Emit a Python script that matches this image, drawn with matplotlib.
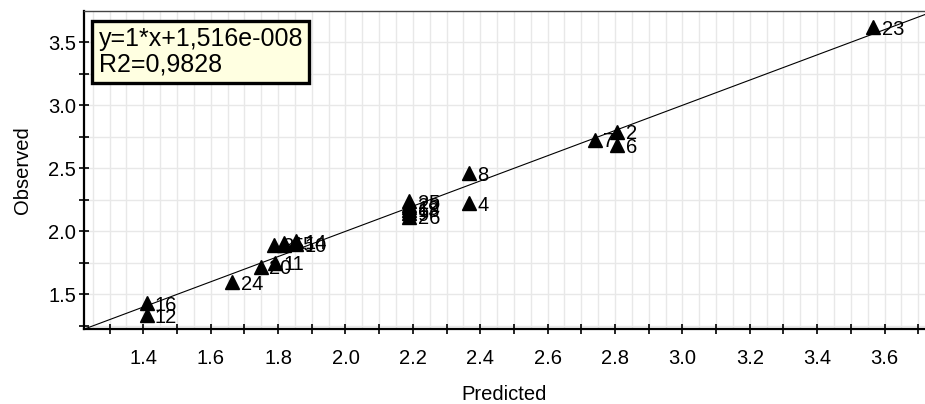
import numpy as np
import matplotlib
matplotlib.use("Agg")
from matplotlib import pyplot as plt
from matplotlib.ticker import MultipleLocator

plt.rcParams['font.family'] = ['Liberation Sans', 'DejaVu Sans']

labels = ['23', '2', '6', '7', '8', '4',
          '25', '22', '19', '13', '9', '26',
          '3', '15', '5', '14', '10',
          '11', '20', '24', '16', '12']
predicted = [3.567, 2.807, 2.807, 2.740, 2.366, 2.366,
             2.190, 2.190, 2.190, 2.190, 2.190, 2.190,
             1.787, 1.817, 1.817, 1.854, 1.854,
             1.792, 1.748, 1.664, 1.410, 1.410]
observed = [3.621, 2.790, 2.685, 2.725, 2.460, 2.222,
            2.240, 2.210, 2.190, 2.170, 2.145, 2.115,
            1.892, 1.905, 1.892, 1.923, 1.898,
            1.752, 1.719, 1.595, 1.429, 1.336]

eq_text = 'y=1*x+1,516e-008\nR2=0,9828'

fig = plt.figure(figsize=(9.25, 4.04), dpi=100)
ax = fig.add_axes([0.0908, 0.1864, 0.9092, 0.7864])

xmin, xmax = 1.224, 3.72
ymin, ymax = 1.228, 3.748
ax.set_xlim(xmin, xmax)
ax.set_ylim(ymin, ymax)

# fit line y = x
ax.plot([xmin, xmax], [xmin, xmax], color='black', lw=0.8, zorder=2)

ax.plot(predicted, observed, ls='none', marker='^', ms=10, color='black', zorder=3)
for lab, px, py in zip(labels, predicted, observed):
    ax.annotate(lab, (px, py), xytext=(6.0, 0), textcoords='offset points',
                ha='left', va='center_baseline', fontsize=14.5, zorder=4)

# ticks and grid
ax.xaxis.set_major_locator(MultipleLocator(0.2))
ax.xaxis.set_minor_locator(MultipleLocator(0.1))
ax.yaxis.set_major_locator(MultipleLocator(0.5))
ax.yaxis.set_minor_locator(MultipleLocator(0.25))
ax.xaxis.set_major_formatter(lambda v, p: '%.1f' % v)
ax.yaxis.set_major_formatter(lambda v, p: '%.1f' % v)
ax.tick_params(which='both', direction='inout', length=7, width=1.2, color='black')
ax.tick_params(axis='x', which='major', pad=11, labelsize=14.5)
ax.tick_params(axis='y', which='major', pad=2, labelsize=14.5)

for v in np.arange(1.25, 3.75, 0.05):
    ax.axvline(v, color='#e8e8e8', lw=1, zorder=0)
for v in np.arange(1.25, 3.75, 0.25):
    ax.axhline(v, color='#e8e8e8', lw=1, zorder=0)

ax.spines['left'].set_linewidth(1.6)
ax.spines['bottom'].set_linewidth(1.6)
ax.spines['top'].set_linewidth(1.0)
ax.spines['top'].set_color('#444444')
ax.spines['right'].set_visible(False)

ax.set_xlabel('Predicted', fontsize=14.5)
ax.set_ylabel('Observed', fontsize=14.5)
ax.xaxis.set_label_coords(0.5, -0.178)
ax.yaxis.set_label_coords(-0.062, 0.5)

ax.text(0.0175, 0.95, eq_text, transform=ax.transAxes, ha='left', va='top',
        fontsize=18, linespacing=1.1, zorder=5,
        bbox=dict(boxstyle='square,pad=0.25', fc='#ffffe1', ec='black', lw=2.4))

plt.savefig('out.png', dpi=100)
